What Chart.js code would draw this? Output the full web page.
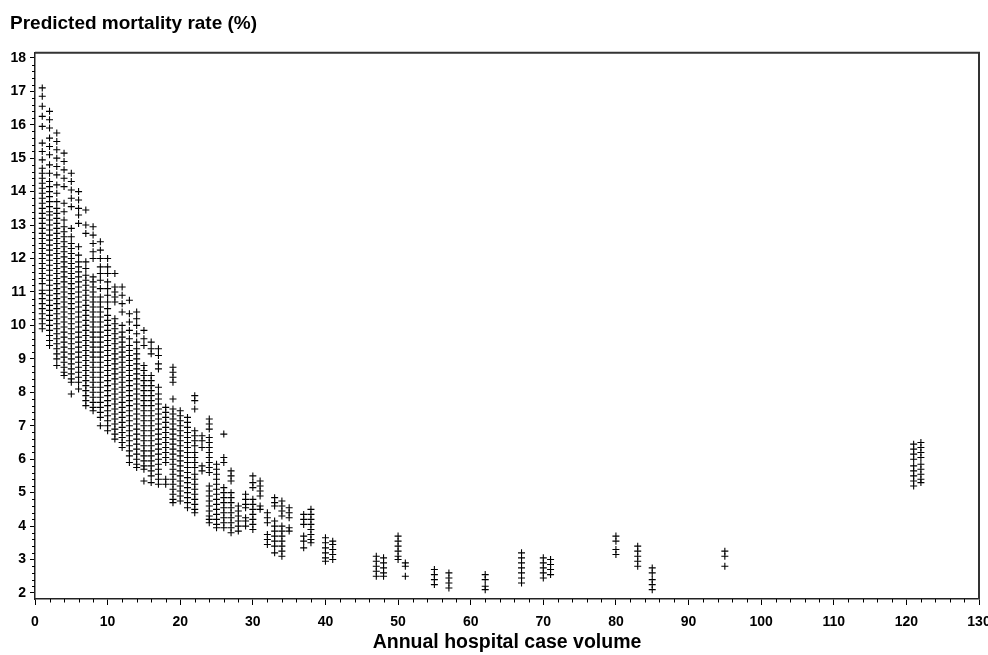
<!DOCTYPE html>
<html>
<head>
<meta charset="utf-8">
<title>Predicted mortality rate by annual hospital case volume</title>
<script src="https://cdn.jsdelivr.net/npm/chart.js@4.4.1/dist/chart.umd.min.js"></script>
<style>
  html, body { margin: 0; padding: 0; background: #fff; }
  canvas { display: block; }
</style>
</head>
<body>
<canvas id="chart" width="988" height="655"></canvas>
<script>
// hospitals: annual case volume (x) and predicted mortality (%) of each patient (y)
const caseVolume = [1, 2, 3, 4, 5, 6, 7, 8, 9, 10, 11, 12, 13, 14, 15, 16, 17, 18, 19, 20,
  21, 22, 23, 24, 25, 26, 27, 28, 29, 30, 31, 32, 33, 34, 35, 37, 38, 40, 41,
  47, 48, 50, 51, 55, 57, 62, 67, 70, 71, 80, 83, 85, 95, 121, 122];

const mortality = [
  [17.1, 16.85, 16.55, 16.25, 15.95, 15.45, 15.2, 14.95, 14.7, 14.55, 14.4, 14.25, 14.1, 13.95, 13.8, 13.65, 13.5, 13.35, 13.2, 13.05, 12.9, 12.75, 12.6, 12.45, 12.3, 12.15, 12.0, 11.85, 11.7, 11.55, 11.4, 11.25, 11.05, 10.95, 10.8, 10.65, 10.5, 10.35, 10.2, 10.05, 9.9],
  [16.4, 16.15, 15.9, 15.6, 15.35, 15.1, 14.8, 14.55, 14.3, 14.15, 14.0, 13.85, 13.7, 13.55, 13.4, 13.3, 13.15, 13.0, 12.85, 12.7, 12.55, 12.4, 12.25, 12.1, 11.95, 11.8, 11.65, 11.5, 11.35, 11.2, 11.05, 10.9, 10.75, 10.6, 10.45, 10.3, 10.15, 10.0, 9.85, 9.7, 9.55, 9.4],
  [15.75, 15.5, 15.25, 15.0, 14.75, 14.5, 14.2, 13.95, 13.7, 13.5, 13.35, 13.2, 13.05, 12.9, 12.75, 12.6, 12.45, 12.3, 12.15, 12.0, 11.85, 11.7, 11.55, 11.4, 11.25, 11.1, 10.95, 10.8, 10.65, 10.5, 10.35, 10.2, 10.05, 9.9, 9.75, 9.6, 9.45, 9.3, 9.15, 9.0, 8.8],
  [15.15, 14.9, 14.65, 14.4, 14.15, 13.65, 13.4, 13.15, 12.95, 12.8, 12.65, 12.5, 12.35, 12.2, 12.05, 11.9, 11.75, 11.6, 11.45, 11.3, 11.15, 11.0, 10.85, 10.7, 10.55, 10.4, 10.25, 10.1, 9.95, 9.8, 9.65, 9.5, 9.35, 9.2, 9.05, 8.9, 8.75, 8.6, 8.5],
  [14.55, 14.3, 14.05, 13.8, 13.55, 12.9, 12.65, 12.45, 12.3, 12.15, 12.0, 11.85, 11.7, 11.55, 11.4, 11.25, 11.1, 10.95, 10.8, 10.65, 10.5, 10.35, 10.2, 10.05, 9.9, 9.75, 9.6, 9.45, 9.3, 9.15, 9.0, 8.85, 8.7, 8.55, 8.4, 8.3, 7.95],
  [14.0, 13.75, 13.5, 13.3, 13.05, 12.35, 12.1, 11.9, 11.75, 11.6, 11.45, 11.3, 11.15, 11.0, 10.85, 10.7, 10.55, 10.4, 10.25, 10.1, 9.95, 9.8, 9.65, 9.5, 9.35, 9.2, 9.05, 8.9, 8.75, 8.6, 8.45, 8.3, 8.1],
  [13.45, 13.0, 12.75, 11.9, 11.7, 11.5, 11.35, 11.2, 11.05, 10.9, 10.75, 10.6, 10.45, 10.3, 10.15, 10.0, 9.85, 9.7, 9.55, 9.4, 9.25, 9.1, 8.95, 8.8, 8.65, 8.5, 8.35, 8.2, 8.05, 7.9, 7.75, 7.6],
  [12.95, 12.7, 12.45, 12.2, 12.0, 11.45, 11.3, 11.15, 11.0, 10.85, 10.7, 10.55, 10.4, 10.25, 10.1, 9.95, 9.8, 9.65, 9.5, 9.35, 9.2, 9.05, 8.9, 8.75, 8.6, 8.45, 8.3, 8.15, 8.0, 7.85, 7.7, 7.55, 7.45],
  [12.5, 12.25, 12.0, 11.75, 11.55, 11.35, 11.1, 10.85, 10.7, 10.55, 10.4, 10.25, 10.1, 9.95, 9.8, 9.65, 9.5, 9.35, 9.2, 9.05, 8.9, 8.75, 8.6, 8.45, 8.3, 8.15, 8.0, 7.85, 7.7, 7.55, 7.4, 7.25, 7.0],
  [12.0, 11.75, 11.55, 11.3, 11.1, 10.9, 10.7, 10.5, 10.3, 10.15, 10.0, 9.85, 9.7, 9.55, 9.4, 9.25, 9.1, 8.95, 8.8, 8.65, 8.5, 8.35, 8.2, 8.05, 7.9, 7.75, 7.6, 7.45, 7.3, 7.15, 7.0, 6.85],
  [11.55, 11.15, 11.0, 10.85, 10.7, 10.2, 10.05, 9.9, 9.75, 9.6, 9.45, 9.3, 9.15, 9.0, 8.85, 8.7, 8.55, 8.4, 8.25, 8.1, 7.95, 7.8, 7.65, 7.5, 7.35, 7.2, 7.05, 6.9, 6.75, 6.6],
  [11.15, 10.9, 10.65, 10.4, 10.0, 9.8, 9.65, 9.5, 9.35, 9.2, 9.05, 8.9, 8.75, 8.6, 8.45, 8.3, 8.15, 8.0, 7.85, 7.7, 7.55, 7.4, 7.25, 7.1, 6.95, 6.8, 6.65, 6.5, 6.35],
  [10.75, 10.35, 10.1, 9.85, 9.6, 9.4, 9.25, 9.1, 8.95, 8.8, 8.65, 8.5, 8.35, 8.2, 8.05, 7.9, 7.75, 7.6, 7.45, 7.3, 7.15, 7.0, 6.85, 6.7, 6.55, 6.4, 6.25, 6.1, 5.9],
  [10.4, 10.2, 10.0, 9.75, 9.5, 9.3, 9.15, 9.0, 8.85, 8.7, 8.55, 8.4, 8.25, 8.1, 7.95, 7.8, 7.65, 7.5, 7.35, 7.2, 7.05, 6.9, 6.75, 6.6, 6.45, 6.3, 6.15, 6.0, 5.85, 5.75],
  [9.85, 9.6, 9.4, 8.8, 8.65, 8.5, 8.35, 8.2, 8.05, 7.9, 7.75, 7.6, 7.45, 7.3, 7.15, 7.0, 6.85, 6.7, 6.55, 6.4, 6.25, 6.1, 5.95, 5.8, 5.7, 5.35],
  [9.5, 9.3, 9.15, 8.5, 8.35, 8.2, 8.05, 7.9, 7.75, 7.6, 7.45, 7.3, 7.15, 7.0, 6.85, 6.7, 6.55, 6.4, 6.25, 6.1, 5.95, 5.8, 5.65, 5.5, 5.3],
  [9.3, 9.1, 8.85, 8.7, 8.15, 7.95, 7.8, 7.65, 7.5, 7.35, 7.2, 7.05, 6.9, 6.75, 6.6, 6.45, 6.3, 6.15, 6.0, 5.85, 5.7, 5.55, 5.4, 5.25],
  [7.55, 7.4, 7.25, 7.1, 6.95, 6.8, 6.65, 6.5, 6.35, 6.2, 6.05, 5.9, 5.4, 5.25],
  [8.75, 8.6, 8.45, 8.3, 7.8, 7.5, 7.35, 7.2, 7.05, 6.9, 6.75, 6.6, 6.45, 6.3, 6.15, 6.0, 5.85, 5.7, 5.55, 5.4, 5.25, 5.1, 4.95, 4.8, 4.7],
  [7.45, 7.3, 7.15, 7.0, 6.85, 6.7, 6.55, 6.4, 6.25, 6.1, 5.95, 5.8, 5.65, 5.5, 5.35, 5.2, 5.05, 4.9, 4.75],
  [7.25, 7.1, 6.95, 6.8, 6.65, 6.5, 6.35, 6.2, 6.05, 5.9, 5.75, 5.6, 5.45, 5.3, 5.15, 5.0, 4.85, 4.7, 4.55],
  [7.9, 7.75, 7.5, 6.85, 6.7, 6.55, 6.4, 6.2, 6.05, 5.9, 5.75, 5.55, 5.4, 5.25, 5.1, 4.95, 4.8, 4.65, 4.5, 4.4],
  [6.7, 6.55, 6.35, 5.8, 5.65],
  [7.2, 7.05, 6.9, 6.65, 6.5, 6.35, 6.2, 6.05, 5.9, 5.75, 5.6, 5.2, 5.05, 4.9, 4.75, 4.6, 4.45, 4.3, 4.2, 4.1],
  [5.85, 5.7, 5.55, 5.4, 5.25, 5.1, 4.95, 4.8, 4.65, 4.5, 4.35, 4.2, 4.05, 3.95],
  [6.75, 6.05, 5.9, 5.15, 5.0, 4.85, 4.7, 4.55, 4.4, 4.25, 4.1, 3.95],
  [5.65, 5.5, 5.35, 5.0, 4.85, 4.7, 4.55, 4.4, 4.25, 4.1, 3.95, 3.8],
  [4.6, 4.45, 4.3, 4.15, 4.0, 3.85],
  [4.95, 4.8, 4.65, 4.55, 4.25, 4.15, 4.0],
  [5.5, 5.3, 5.15, 4.8, 4.65, 4.5, 4.35, 4.2, 4.05, 3.9],
  [5.35, 5.2, 5.05, 4.9, 4.6, 4.5],
  [4.4, 4.25, 4.1, 3.75, 3.6, 3.45],
  [4.85, 4.7, 4.6, 4.15, 4.0, 3.85, 3.7, 3.55, 3.4, 3.2],
  [4.75, 4.6, 4.45, 4.3, 4.0, 3.85, 3.7, 3.55, 3.4, 3.25, 3.1],
  [4.55, 4.4, 4.25, 3.95, 3.85],
  [4.35, 4.2, 4.05, 3.7, 3.55, 3.35],
  [4.5, 4.35, 4.2, 4.05, 3.9, 3.75, 3.6, 3.5],
  [3.65, 3.5, 3.35, 3.2, 3.05, 2.95],
  [3.55, 3.45, 3.3, 3.15, 3.0],
  [3.1, 2.95, 2.8, 2.65, 2.5],
  [3.05, 2.9, 2.75, 2.6, 2.5],
  [3.7, 3.55, 3.4, 3.25, 3.1, 3.0],
  [2.9, 2.8, 2.5],
  [2.7, 2.55, 2.4, 2.25],
  [2.6, 2.45, 2.3, 2.15],
  [2.55, 2.4, 2.2, 2.1],
  [3.2, 3.05, 2.9, 2.75, 2.6, 2.45, 2.3],
  [3.05, 2.9, 2.75, 2.6, 2.45],
  [3.0, 2.85, 2.7, 2.55],
  [3.7, 3.55, 3.3, 3.15],
  [3.4, 3.25, 3.1, 2.95, 2.8],
  [2.75, 2.6, 2.4, 2.25, 2.1],
  [3.25, 3.1, 2.8],
  [6.45, 6.3, 6.15, 6.0, 5.8, 5.65, 5.5, 5.35, 5.2],
  [6.5, 6.35, 6.2, 6.05, 5.85, 5.7, 5.55, 5.4, 5.3]
];

const xTicks = [0, 10, 20, 30, 40, 50, 60, 70, 80, 90, 100, 110, 120, 130];
const yTicks = [2, 3, 4, 5, 6, 7, 8, 9, 10, 11, 12, 13, 14, 15, 16, 17, 18];

const points = [];
caseVolume.forEach((x, i) => {
  mortality[i].forEach((y) => points.push({ x: x, y: y }));
});

const FONT = 'Arial, "Liberation Sans", Helvetica, sans-serif';

// box on top/right + the small minor ticks SAS draws
const framePlugin = {
  id: 'frame',
  afterDraw(chart) {
    const { ctx, chartArea: a, scales } = chart;
    ctx.save();
    ctx.strokeStyle = '#333';
    ctx.lineWidth = 2;
    ctx.beginPath();
    ctx.moveTo(a.left, a.top);
    ctx.lineTo(a.right, a.top);
    ctx.lineTo(a.right, a.bottom);
    ctx.stroke();

    ctx.strokeStyle = '#000';
    ctx.lineWidth = 1;
    ctx.beginPath();
    for (let i = 10; i <= 90; i++) {
      if (i % 5 === 0) continue;
      const py = Math.round(scales.y.getPixelForValue(i / 5)) + 0.5;
      ctx.moveTo(a.left - 3, py);
      ctx.lineTo(a.left, py);
    }
    for (let v = 0; v <= 130; v += 2) {
      if (v % 10 === 0) continue;
      const px = Math.round(scales.x.getPixelForValue(v)) + 0.5;
      ctx.moveTo(px, a.bottom);
      ctx.lineTo(px, a.bottom + 3.5);
    }
    ctx.stroke();
    ctx.restore();
  }
};

new Chart(document.getElementById('chart'), {
  type: 'scatter',
  data: {
    datasets: [{
      data: points,
      pointStyle: 'cross',
      pointRadius: 3.5,
      pointBorderWidth: 1.1,
      borderColor: '#000',
      backgroundColor: '#000'
    }]
  },
  options: {
    responsive: false,
    animation: false,
    devicePixelRatio: 1,
    events: [],
    layout: { padding: { left: 10, right: 9, top: 0, bottom: 0 } },
    plugins: {
      legend: { display: false },
      tooltip: { enabled: false },
      title: {
        display: true,
        text: 'Predicted mortality rate (%)',
        align: 'start',
        color: '#000',
        font: { family: FONT, size: 19, weight: 'bold' },
        padding: { top: 12, bottom: 18 }
      }
    },
    scales: {
      x: {
        type: 'linear',
        min: 0,
        max: 130,
        afterBuildTicks: (scale) => { scale.ticks = xTicks.map((v) => ({ value: v })); },
        afterFit: (scale) => {
          scale.height = 56;
          scale.paddingLeft = 0;
          scale.paddingRight = 0;
        },
        ticks: {
          autoSkip: false,
          maxRotation: 0,
          color: '#000',
          padding: 9,
          font: { family: FONT, size: 14, weight: 'bold' }
        },
        grid: { drawOnChartArea: false, tickLength: 6, tickColor: '#000', tickWidth: 1 },
        border: { color: '#222', width: 1.5 },
        title: {
          display: true,
          text: 'Annual hospital case volume',
          color: '#000',
          font: { family: FONT, size: 19.5, weight: 'bold' },
          padding: { top: 0, bottom: 1 }
        }
      },
      y: {
        type: 'linear',
        min: 1.82,
        max: 18.15,
        afterBuildTicks: (scale) => { scale.ticks = yTicks.map((v) => ({ value: v })); },
        afterFit: (scale) => {
          scale.width = 25;
          scale.paddingTop = 0;
          scale.paddingBottom = 0;
        },
        ticks: {
          color: '#000',
          padding: 4,
          font: { family: FONT, size: 14, weight: 'bold' }
        },
        grid: { drawOnChartArea: false, tickLength: 5, tickColor: '#000', tickWidth: 1 },
        border: { color: '#222', width: 1.5 }
      }
    }
  },
  plugins: [framePlugin]
});
</script>
</body>
</html>
